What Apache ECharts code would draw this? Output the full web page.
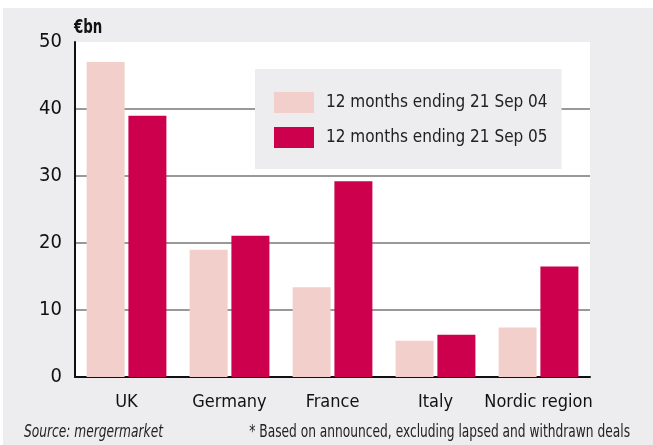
<!DOCTYPE html>
<html>
<head>
<meta charset="utf-8">
<script src="https://cdn.jsdelivr.net/npm/echarts@6/dist/echarts.min.js"></script>
<style>
  html, body { margin: 0; padding: 0; background: #fff; }
  #chart { width: 653px; height: 445px; }
</style>
</head>
<body>
<div id="chart"></div>
<script>
// data
var regions = ['UK', 'Germany', 'France', 'Italy', 'Nordic region'];
var seriesNames = ['12 months ending 21 Sep 04', '12 months ending 21 Sep 05'];
var values04 = [47.0, 19.0, 13.4, 5.4, 7.4];
var values05 = [39.0, 21.1, 29.2, 6.3, 16.5];

var FONT = '"DejaVu Sans Condensed", "Liberation Sans Narrow", sans-serif';
var panelGray = '#edecef';
var lightPink = '#f2cfca';
var crimson = '#cc004c';

var chart = echarts.init(document.getElementById('chart'));

chart.setOption({
    backgroundColor: '#fff',
    animation: false,
    textStyle: { fontFamily: FONT },
    graphic: [
        {
            type: 'rect', z: -10, silent: true,
            shape: { x: 3, y: 8, width: 650, height: 437 },
            style: { fill: panelGray }
        },
        {
            type: 'text', x: 74, y: 19, scaleX: 0.78,
            style: { text: '€bn', font: 'bold 19px ' + FONT, fill: '#111' }
        },
        {
            type: 'text', x: 24, y: 424, scaleX: 0.8,
            style: { text: 'Source: mergermarket', font: 'italic 17px ' + FONT, fill: '#222' }
        },
        {
            type: 'text', x: 630, y: 424, scaleX: 0.8,
            style: { text: '* Based on announced, excluding lapsed and withdrawn deals', font: '17px ' + FONT, fill: '#222', align: 'right' }
        }
    ],
    grid: {
        left: 75, top: 42, width: 515, height: 335,
        show: true, backgroundColor: '#fff', borderWidth: 0
    },
    legend: {
        orient: 'vertical',
        left: 255, top: 69,
        backgroundColor: panelGray,
        padding: [23, 14, 21, 19],
        itemWidth: 40, itemHeight: 21, itemGap: 14,
        icon: 'rect',
        textStyle: { fontSize: 17, color: '#222', fontFamily: FONT, padding: [0, 0, 0, 7] },
        data: seriesNames
    },
    xAxis: {
        type: 'category',
        data: regions,
        axisLine: { show: true, lineStyle: { color: '#111', width: 2 } },
        axisTick: { show: false },
        axisLabel: { fontSize: 18, color: '#111', margin: 16, interval: 0 }
    },
    yAxis: {
        type: 'value',
        min: 0, max: 50, interval: 10,
        axisLine: { show: true, lineStyle: { color: '#111', width: 2 } },
        axisTick: { show: false },
        axisLabel: { fontSize: 20, color: '#111', margin: 13, padding: [6, 0, 0, 0] },
        splitLine: {
            show: true,
            lineStyle: { color: ['#777', '#777', '#777', '#777', '#777', 'rgba(0,0,0,0)'], width: 1.5 }
        }
    },
    series: [
        {
            name: seriesNames[0], type: 'bar',
            data: values04, barWidth: 38, barGap: '10%',
            itemStyle: { color: lightPink }
        },
        {
            name: seriesNames[1], type: 'bar',
            data: values05, barWidth: 38, barGap: '10%',
            itemStyle: { color: crimson }
        }
    ]
});
</script>
</body>
</html>
